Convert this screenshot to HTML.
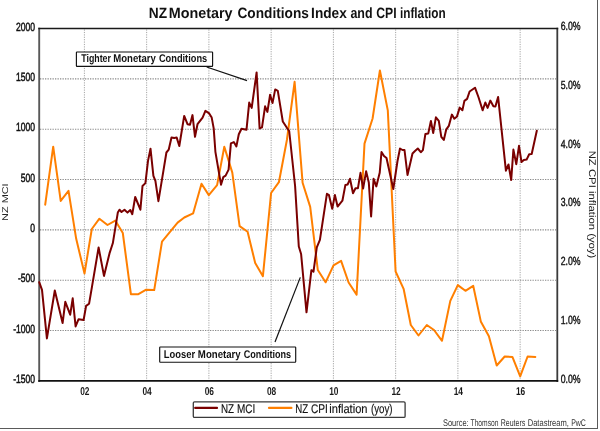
<!DOCTYPE html><html><head><meta charset="utf-8"><style>html,body{margin:0;padding:0;background:#fff;width:600px;height:431px;overflow:hidden}svg{display:block;will-change:transform}text{font-family:"Liberation Sans",sans-serif;text-rendering:geometricPrecision}</style></head><body>
<svg width="600" height="431" viewBox="0 0 600 431">
<rect width="600" height="431" fill="#fff"/>
<line x1="597.5" y1="0" x2="597.5" y2="429" stroke="#5a5a5a" stroke-width="1"/>
<line x1="0" y1="428.5" x2="598" y2="428.5" stroke="#5a5a5a" stroke-width="1"/>
<text x="148.81" y="18.10" font-size="14.9" font-weight="bold" fill="#111" textLength="18.28" lengthAdjust="spacingAndGlyphs" >NZ</text>
<text x="168.77" y="18.10" font-size="14.9" font-weight="bold" fill="#111" textLength="63.81" lengthAdjust="spacingAndGlyphs" >Monetary</text>
<text x="237.45" y="18.10" font-size="14.9" font-weight="bold" fill="#111" textLength="71.41" lengthAdjust="spacingAndGlyphs" >Conditions</text>
<text x="311.11" y="18.10" font-size="14.9" font-weight="bold" fill="#111" textLength="35.68" lengthAdjust="spacingAndGlyphs" >Index</text>
<text x="350.43" y="18.10" font-size="14.9" font-weight="bold" fill="#111" textLength="22.12" lengthAdjust="spacingAndGlyphs" >and</text>
<text x="376.31" y="18.10" font-size="14.9" font-weight="bold" fill="#111" textLength="20.30" lengthAdjust="spacingAndGlyphs" >CPI</text>
<text x="399.98" y="18.10" font-size="14.9" font-weight="bold" fill="#111" textLength="45.77" lengthAdjust="spacingAndGlyphs" >inflation</text>
<line x1="40" y1="78.84" x2="556" y2="78.84" stroke="#8a8a8a" stroke-width="1.1" stroke-dasharray="1.3 1.2"/>
<line x1="40" y1="129.18" x2="556" y2="129.18" stroke="#8a8a8a" stroke-width="1.1" stroke-dasharray="1.3 1.2"/>
<line x1="40" y1="179.52" x2="556" y2="179.52" stroke="#8a8a8a" stroke-width="1.1" stroke-dasharray="1.3 1.2"/>
<line x1="40" y1="229.86" x2="556" y2="229.86" stroke="#8a8a8a" stroke-width="1.1" stroke-dasharray="1.3 1.2"/>
<line x1="40" y1="280.20" x2="556" y2="280.20" stroke="#8a8a8a" stroke-width="1.1" stroke-dasharray="1.3 1.2"/>
<line x1="40" y1="330.54" x2="556" y2="330.54" stroke="#8a8a8a" stroke-width="1.1" stroke-dasharray="1.3 1.2"/>
<line x1="84.40" y1="29.5" x2="84.40" y2="380" stroke="#a5a5a5" stroke-width="1" stroke-dasharray="1.2 1.2"/>
<line x1="146.65" y1="29.5" x2="146.65" y2="380" stroke="#a5a5a5" stroke-width="1" stroke-dasharray="1.2 1.2"/>
<line x1="208.90" y1="29.5" x2="208.90" y2="380" stroke="#a5a5a5" stroke-width="1" stroke-dasharray="1.2 1.2"/>
<line x1="271.15" y1="29.5" x2="271.15" y2="380" stroke="#a5a5a5" stroke-width="1" stroke-dasharray="1.2 1.2"/>
<line x1="333.40" y1="29.5" x2="333.40" y2="380" stroke="#a5a5a5" stroke-width="1" stroke-dasharray="1.2 1.2"/>
<line x1="395.65" y1="29.5" x2="395.65" y2="380" stroke="#a5a5a5" stroke-width="1" stroke-dasharray="1.2 1.2"/>
<line x1="457.90" y1="29.5" x2="457.90" y2="380" stroke="#a5a5a5" stroke-width="1" stroke-dasharray="1.2 1.2"/>
<line x1="520.15" y1="29.5" x2="520.15" y2="380" stroke="#a5a5a5" stroke-width="1" stroke-dasharray="1.2 1.2"/>
<line x1="39.2" y1="27.70" x2="39.2" y2="381.88" stroke="#585858" stroke-width="1.9"/>
<line x1="557.3" y1="27.70" x2="557.3" y2="381.88" stroke="#3a3a3a" stroke-width="1.8"/>
<line x1="38.3" y1="28.50" x2="558.2" y2="28.50" stroke="#1a1a1a" stroke-width="1.6"/>
<line x1="38.3" y1="380.88" x2="558.2" y2="380.88" stroke="#111" stroke-width="1.9"/>
<text x="0" y="0" font-size="11.9" fill="#111" stroke="#111" stroke-width="0.5" text-anchor="end" transform="translate(35.1,30.70) scale(0.72,1)">2000</text>
<text x="0" y="0" font-size="11.9" fill="#111" stroke="#111" stroke-width="0.5" text-anchor="end" transform="translate(35.1,81.04) scale(0.72,1)">1500</text>
<text x="0" y="0" font-size="11.9" fill="#111" stroke="#111" stroke-width="0.5" text-anchor="end" transform="translate(35.1,131.38) scale(0.72,1)">1000</text>
<text x="0" y="0" font-size="11.9" fill="#111" stroke="#111" stroke-width="0.5" text-anchor="end" transform="translate(35.1,181.72) scale(0.72,1)">500</text>
<text x="0" y="0" font-size="11.9" fill="#111" stroke="#111" stroke-width="0.5" text-anchor="end" transform="translate(35.1,232.06) scale(0.72,1)">0</text>
<text x="0" y="0" font-size="11.9" fill="#111" stroke="#111" stroke-width="0.5" text-anchor="end" transform="translate(35.1,282.40) scale(0.72,1)">-500</text>
<text x="0" y="0" font-size="11.9" fill="#111" stroke="#111" stroke-width="0.5" text-anchor="end" transform="translate(35.1,332.74) scale(0.72,1)">-1000</text>
<text x="0" y="0" font-size="11.9" fill="#111" stroke="#111" stroke-width="0.5" text-anchor="end" transform="translate(35.1,383.08) scale(0.72,1)">-1500</text>
<text x="0" y="0" font-size="11.3" font-weight="bold" fill="#1a1a1a" text-anchor="middle" transform="translate(84.80,395.0) scale(0.74,1)">02</text>
<text x="0" y="0" font-size="11.3" font-weight="bold" fill="#1a1a1a" text-anchor="middle" transform="translate(147.05,395.0) scale(0.74,1)">04</text>
<text x="0" y="0" font-size="11.3" font-weight="bold" fill="#1a1a1a" text-anchor="middle" transform="translate(209.30,395.0) scale(0.74,1)">06</text>
<text x="0" y="0" font-size="11.3" font-weight="bold" fill="#1a1a1a" text-anchor="middle" transform="translate(271.55,395.0) scale(0.74,1)">08</text>
<text x="0" y="0" font-size="11.3" font-weight="bold" fill="#1a1a1a" text-anchor="middle" transform="translate(333.80,395.0) scale(0.74,1)">10</text>
<text x="0" y="0" font-size="11.3" font-weight="bold" fill="#1a1a1a" text-anchor="middle" transform="translate(396.05,395.0) scale(0.74,1)">12</text>
<text x="0" y="0" font-size="11.3" font-weight="bold" fill="#1a1a1a" text-anchor="middle" transform="translate(458.30,395.0) scale(0.74,1)">14</text>
<text x="0" y="0" font-size="11.3" font-weight="bold" fill="#1a1a1a" text-anchor="middle" transform="translate(520.55,395.0) scale(0.74,1)">16</text>
<text x="0" y="0" font-size="11.8" fill="#111" stroke="#111" stroke-width="0.4" transform="translate(560.7,30.30) scale(0.74,1)">6.0%</text>
<text x="0" y="0" font-size="11.8" fill="#111" stroke="#111" stroke-width="0.4" transform="translate(560.7,89.03) scale(0.74,1)">5.0%</text>
<text x="0" y="0" font-size="11.8" fill="#111" stroke="#111" stroke-width="0.4" transform="translate(560.7,147.76) scale(0.74,1)">4.0%</text>
<text x="0" y="0" font-size="11.8" fill="#111" stroke="#111" stroke-width="0.4" transform="translate(560.7,206.49) scale(0.74,1)">3.0%</text>
<text x="0" y="0" font-size="11.8" fill="#111" stroke="#111" stroke-width="0.4" transform="translate(560.7,265.22) scale(0.74,1)">2.0%</text>
<text x="0" y="0" font-size="11.8" fill="#111" stroke="#111" stroke-width="0.4" transform="translate(560.7,323.95) scale(0.74,1)">1.0%</text>
<text x="0" y="0" font-size="11.8" fill="#111" stroke="#111" stroke-width="0.4" transform="translate(560.7,382.68) scale(0.74,1)">0.0%</text>
<text x="-0.87" y="0.00" font-size="8.4" fill="#222" textLength="37.60" lengthAdjust="spacingAndGlyphs" transform="translate(7.7,220.1) rotate(-90)">NZ MCI</text>
<text x="-0.91" y="0.00" font-size="9.7" fill="#222" textLength="107.62" lengthAdjust="spacingAndGlyphs" transform="translate(589,151.6) rotate(90)">NZ CPI inflation (yoy)</text>
<path d="M45.2,204.7 L53.2,146.7 L60.7,200.9 L68.5,190.8 L76.2,238.8 L84.5,273.5 L91.8,229.0 L99.4,218.7 L107.5,225.0 L115.3,220.6 L122.8,233.0 L130.9,294.2 L138.4,294.2 L146.2,289.7 L154.2,290.1 L162.0,241.6 L177.6,222.6 L184.3,217.5 L193.1,213.4 L201.5,183.8 L208.8,195.1 L217.1,185.1 L224.3,146.7 L232.3,172.6 L239.6,226.1 L247.6,231.8 L255.2,263.0 L262.9,276.2 L271.1,193.0 L278.9,182.2 L286.9,140.0 L294.6,81.8 L302.6,182.8 L310.2,206.9 L317.8,270.0 L325.6,282.3 L333.5,265.4 L341.1,260.8 L348.6,282.5 L356.6,294.6 L364.5,143.6 L372.6,118.5 L379.9,70.5 L387.8,110.4 L395.6,271.5 L403.6,288.8 L410.8,325.0 L418.5,335.5 L426.8,325.0 L434.0,330.0 L442.0,340.8 L450.3,300.9 L457.8,285.1 L465.4,290.8 L473.2,285.8 L480.8,321.4 L488.9,336.3 L496.7,365.5 L504.7,356.5 L512.4,356.9 L520.2,376.3 L527.6,356.5 L535.3,356.9" fill="none" stroke="#ff7f00" stroke-width="2.0" stroke-linejoin="round" stroke-linecap="round"/>
<path d="M39.3,282.3 L42.0,289.8 L46.9,338.4 L54.8,290.5 L62.6,323.0 L65.3,301.8 L70.2,314.7 L72.7,298.3 L75.6,326.4 L78.6,319.2 L83.6,320.0 L86.1,305.9 L89.1,303.7 L92.0,286.7 L98.6,247.5 L104.0,275.9 L109.5,253.4 L112.8,243.3 L117.8,212.6 L119.5,209.7 L121.5,212.0 L124.5,209.7 L127.5,212.6 L130.3,210.0 L132.3,214.2 L135.2,197.0 L140.4,209.7 L142.5,186.0 L145.4,183.1 L148.0,160.9 L150.5,148.7 L153.4,175.9 L155.4,180.9 L158.4,201.2 L163.4,170.9 L166.4,152.5 L168.7,149.7 L171.5,137.5 L174.2,138.0 L176.7,137.6 L179.3,146.0 L184.2,115.9 L187.5,124.2 L190.0,124.7 L192.5,115.1 L195.0,136.8 L197.5,124.2 L202.6,117.6 L205.4,110.9 L209.2,113.4 L211.7,117.6 L213.7,128.4 L215.4,151.8 L221.0,184.7 L223.3,177.1 L225.6,175.6 L228.6,169.6 L230.9,143.4 L233.8,142.1 L236.4,146.4 L238.8,134.3 L241.5,128.7 L246.5,129.7 L249.2,102.6 L251.7,107.9 L256.6,72.4 L259.6,128.4 L262.0,127.3 L265.1,106.3 L267.4,111.9 L270.1,94.7 L272.5,103.1 L275.2,89.4 L277.8,90.8 L282.8,121.5 L286.9,127.8 L289.2,131.0 L295.1,186.0 L298.8,246.5 L301.1,254.0 L306.5,312.3 L311.4,270.2 L313.5,271.6 L316.8,247.3 L319.9,239.9 L326.9,193.8 L329.0,195.2 L332.2,208.7 L334.9,195.1 L337.6,206.6 L342.4,200.7 L345.4,184.9 L347.7,184.4 L350.0,178.8 L353.0,193.2 L355.5,188.3 L357.9,188.3 L360.5,172.8 L363.1,188.6 L366.1,171.3 L368.8,182.6 L371.1,216.5 L373.6,178.8 L376.3,186.4 L379.7,172.8 L381.5,152.0 L384.0,156.0 L386.5,158.0 L393.3,189.0 L397.5,161.0 L400.0,148.5 L402.5,150.0 L404.5,150.0 L407.5,175.0 L412.5,153.5 L415.0,151.0 L417.8,148.5 L420.8,152.2 L422.9,150.1 L425.4,133.9 L428.3,133.4 L430.9,120.9 L433.2,133.0 L435.9,117.3 L438.8,120.9 L441.3,136.8 L443.8,139.9 L446.3,129.3 L448.8,125.9 L451.9,114.6 L454.3,118.7 L457.0,116.4 L459.7,107.6 L462.4,110.3 L464.4,100.9 L467.1,98.9 L469.6,91.5 L475.0,87.7 L478.6,97.5 L482.6,110.3 L485.3,102.5 L487.6,107.9 L490.3,100.6 L493.4,106.3 L495.4,106.6 L498.1,96.9 L505.9,170.7 L508.5,164.5 L511.2,180.0 L513.4,149.6 L516.3,164.2 L519.0,145.8 L521.5,162.1 L523.8,160.0 L526.6,159.6 L529.2,154.2 L531.7,154.0 L536.8,130.8" fill="none" stroke="#7a0000" stroke-width="2.0" stroke-linejoin="round" stroke-linecap="round"/>
<line x1="206.7" y1="67" x2="247" y2="80.6" stroke="#111" stroke-width="1.2"/>
<rect x="76.4" y="52" width="136.2" height="14.4" rx="0.6" fill="#fff" stroke="#111" stroke-width="1.15"/>
<text x="81.21" y="62.30" font-size="11.2" font-weight="bold" fill="#111" textLength="29.73" lengthAdjust="spacingAndGlyphs" >Tighter</text>
<text x="113.28" y="62.30" font-size="11.2" font-weight="bold" fill="#111" textLength="42.57" lengthAdjust="spacingAndGlyphs" >Monetary</text>
<text x="158.93" y="62.30" font-size="11.2" font-weight="bold" fill="#111" textLength="48.25" lengthAdjust="spacingAndGlyphs" >Conditions</text>
<line x1="275" y1="342" x2="300.3" y2="277.4" stroke="#111" stroke-width="1.2"/>
<rect x="159.7" y="347" width="136" height="15.2" rx="0.6" fill="#fff" stroke="#111" stroke-width="1.15"/>
<text x="163.79" y="357.70" font-size="11.2" font-weight="bold" fill="#111" textLength="31.34" lengthAdjust="spacingAndGlyphs" >Looser</text>
<text x="197.87" y="357.70" font-size="11.2" font-weight="bold" fill="#111" textLength="42.78" lengthAdjust="spacingAndGlyphs" >Monetary</text>
<text x="243.74" y="357.70" font-size="11.2" font-weight="bold" fill="#111" textLength="47.44" lengthAdjust="spacingAndGlyphs" >Conditions</text>
<rect x="193.3" y="401.8" width="211.8" height="15.6" rx="1.2" fill="#fff" stroke="#3a3a3a" stroke-width="1.3"/>
<line x1="195.2" y1="407.9" x2="217" y2="407.9" stroke="#7a0000" stroke-width="2.2" stroke-linecap="round"/>
<line x1="269" y1="407.9" x2="291.4" y2="407.9" stroke="#ff7f00" stroke-width="2.2" stroke-linecap="round"/>
<text x="220.91" y="412.70" font-size="12.6" fill="#111" textLength="13.11" lengthAdjust="spacingAndGlyphs" stroke="#111" stroke-width="0.15">NZ</text>
<text x="236.90" y="412.70" font-size="12.6" fill="#111" textLength="18.33" lengthAdjust="spacingAndGlyphs" stroke="#111" stroke-width="0.15">MCI</text>
<text x="295.23" y="412.70" font-size="12.6" fill="#111" textLength="12.89" lengthAdjust="spacingAndGlyphs" stroke="#111" stroke-width="0.15">NZ</text>
<text x="310.99" y="412.70" font-size="12.6" fill="#111" textLength="16.94" lengthAdjust="spacingAndGlyphs" stroke="#111" stroke-width="0.15">CPI</text>
<text x="329.28" y="412.70" font-size="12.6" fill="#111" textLength="38.26" lengthAdjust="spacingAndGlyphs" stroke="#111" stroke-width="0.15">inflation</text>
<text x="370.91" y="412.70" font-size="12.6" fill="#111" textLength="21.69" lengthAdjust="spacingAndGlyphs" stroke="#111" stroke-width="0.15">(yoy)</text>
<text x="442.96" y="426.10" font-size="9.7" fill="#333" textLength="25.72" lengthAdjust="spacingAndGlyphs" >Source:</text>
<text x="470.57" y="426.10" font-size="9.7" fill="#333" textLength="27.89" lengthAdjust="spacingAndGlyphs" >Thomson</text>
<text x="500.74" y="426.10" font-size="9.7" fill="#333" textLength="24.52" lengthAdjust="spacingAndGlyphs" >Reuters</text>
<text x="527.69" y="426.10" font-size="9.7" fill="#333" textLength="41.26" lengthAdjust="spacingAndGlyphs" >Datastream,</text>
<text x="571.14" y="426.10" font-size="9.7" fill="#333" textLength="14.82" lengthAdjust="spacingAndGlyphs" >PwC</text>
</svg></body></html>
